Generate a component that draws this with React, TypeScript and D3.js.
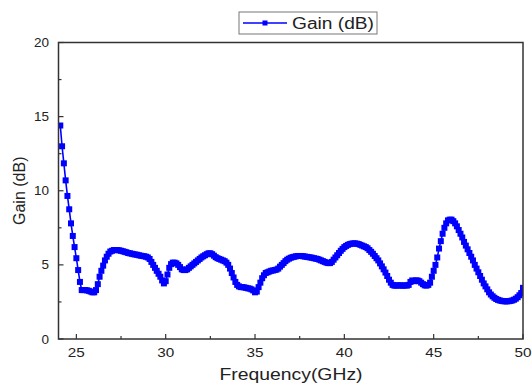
import * as d3 from "d3";
import { useEffect, useRef } from "react";

// sweep starts at 24.1 GHz, 0.1 GHz per point
const freqStart = 24.1;
const freqStep = 0.1;

const gain = [
  14.4, 13.0, 11.85, 10.7, 9.65, 8.75, 7.8, 6.95, 6.2,
  5.45, 4.65, 3.85, 3.3, 3.3, 3.3, 3.28, 3.25, 3.2, 3.15,
  3.15, 3.3, 3.7, 4.2, 4.6, 4.95, 5.3, 5.55, 5.75, 5.9,
  5.95, 6.0, 6.0, 6.0, 5.98, 5.95, 5.92, 5.88, 5.85, 5.8,
  5.78, 5.75, 5.72, 5.7, 5.68, 5.65, 5.62, 5.6, 5.58, 5.55,
  5.5, 5.4, 5.2, 5.0, 4.8, 4.6, 4.4, 4.2, 3.95, 3.75,
  3.9, 4.35, 4.8, 5.05, 5.15, 5.15, 5.1, 5.0, 4.85, 4.7,
  4.65, 4.65, 4.7, 4.8, 4.9, 5.0, 5.1, 5.2, 5.3, 5.4,
  5.5, 5.58, 5.65, 5.72, 5.78, 5.78, 5.72, 5.62, 5.52, 5.45,
  5.4, 5.35, 5.3, 5.25, 5.15, 5.0, 4.75, 4.45, 4.15, 3.85,
  3.65, 3.55, 3.5, 3.5, 3.48, 3.45, 3.42, 3.4, 3.35, 3.28,
  3.15, 3.2, 3.5, 3.8, 4.1, 4.3, 4.45, 4.5, 4.55, 4.6,
  4.62, 4.65, 4.68, 4.75, 4.88, 5.0, 5.12, 5.25, 5.35, 5.42,
  5.48, 5.52, 5.55, 5.58, 5.6, 5.6, 5.6, 5.58, 5.56, 5.54,
  5.52, 5.5, 5.48, 5.45, 5.42, 5.4, 5.35, 5.3, 5.25, 5.2,
  5.15, 5.12, 5.12, 5.2, 5.35, 5.5, 5.65, 5.8, 5.95, 6.08,
  6.2, 6.28, 6.35, 6.4, 6.43, 6.45, 6.45, 6.43, 6.4, 6.35,
  6.3, 6.25, 6.2, 6.12, 6.0, 5.88, 5.75, 5.6, 5.45, 5.3,
  5.1, 4.9, 4.7, 4.48, 4.25, 4.0, 3.8, 3.65, 3.6, 3.6,
  3.62, 3.62, 3.6, 3.6, 3.62, 3.6, 3.65, 3.85, 3.95, 3.9,
  3.95, 3.95, 3.9, 3.8, 3.7, 3.62, 3.6, 3.65, 3.8, 4.2,
  4.6, 5.0, 5.5, 6.1, 6.6, 7.1, 7.5, 7.8, 8.0, 8.05,
  8.05, 7.95, 7.8, 7.6, 7.35, 7.1, 6.85, 6.55, 6.3, 6.05,
  5.8, 5.55, 5.3, 5.0, 4.75, 4.5, 4.25, 4.0, 3.75, 3.55,
  3.35, 3.15, 3.0, 2.88, 2.78, 2.7, 2.64, 2.6, 2.57, 2.55,
  2.54, 2.54, 2.55, 2.57, 2.6, 2.65, 2.72, 2.82, 2.95, 3.1,
  3.45,
];

const xTicks = [25, 30, 35, 40, 45, 50];
const xMinorTicks = [27.5, 32.5, 37.5, 42.5, 47.5];
const yTicks = [0, 5, 10, 15, 20];
const yMinorTicks = [2.5, 7.5, 12.5, 17.5];

const seriesName = "Gain (dB)";
const blue = "#0000ff";
const font = "'Liberation Sans', Arial, Helvetica, sans-serif";

export default function App() {
  const ref = useRef<SVGSVGElement>(null);

  useEffect(() => {
    const svg = d3.select(ref.current);
    svg.selectAll("*").remove();

    const left = 58.5;
    const right = 523;
    const top = 42.5;
    const bottom = 339;

    const x = d3.scaleLinear().domain([24, 50]).range([left, right]);
    const y = d3.scaleLinear().domain([0, 20]).range([bottom, top]);

    const points = gain.map((g, i) => ({
      f: +(freqStart + i * freqStep).toFixed(1),
      g,
    }));

    svg
      .append("defs")
      .append("clipPath")
      .attr("id", "plot-clip")
      .append("rect")
      .attr("x", left)
      .attr("y", top)
      .attr("width", right - left)
      .attr("height", bottom - top);

    // ticks, inward
    const axis = svg.append("g").attr("stroke", "#333").attr("stroke-width", 1.2);
    axis
      .selectAll("line.xmaj")
      .data(xTicks)
      .join("line")
      .attr("x1", (d) => x(d))
      .attr("x2", (d) => x(d))
      .attr("y1", bottom)
      .attr("y2", bottom - 5);
    axis
      .selectAll("line.xmin")
      .data(xMinorTicks)
      .join("line")
      .attr("x1", (d) => x(d))
      .attr("x2", (d) => x(d))
      .attr("y1", bottom)
      .attr("y2", bottom - 3);
    axis
      .selectAll("line.ymaj")
      .data(yTicks)
      .join("line")
      .attr("x1", left)
      .attr("x2", left + 5)
      .attr("y1", (d) => y(d))
      .attr("y2", (d) => y(d));
    axis
      .selectAll("line.ymin")
      .data(yMinorTicks)
      .join("line")
      .attr("x1", left)
      .attr("x2", left + 3)
      .attr("y1", (d) => y(d))
      .attr("y2", (d) => y(d));

    // data
    const plot = svg.append("g").attr("clip-path", "url(#plot-clip)");
    const line = d3
      .line<{ f: number; g: number }>()
      .x((d) => x(d.f))
      .y((d) => y(d.g));
    plot
      .append("path")
      .attr("d", line(points))
      .attr("fill", "none")
      .attr("stroke", blue)
      .attr("stroke-width", 1.6);
    plot
      .selectAll("rect")
      .data(points)
      .join("rect")
      .attr("x", (d) => x(d.f) - 3)
      .attr("y", (d) => y(d.g) - 3)
      .attr("width", 6)
      .attr("height", 6)
      .attr("fill", blue);

    // frame
    svg
      .append("rect")
      .attr("x", left)
      .attr("y", top)
      .attr("width", right - left)
      .attr("height", bottom - top)
      .attr("fill", "none")
      .attr("stroke", "#333")
      .attr("stroke-width", 1.5);

    // tick labels
    const labels = svg
      .append("g")
      .attr("font-family", font)
      .attr("font-size", 13.5)
      .attr("fill", "#222");
    labels
      .selectAll("text.x")
      .data(xTicks)
      .join("text")
      .attr("x", (d) => x(d))
      .attr("y", 357)
      .attr("text-anchor", "middle")
      .attr("textLength", 17)
      .attr("lengthAdjust", "spacingAndGlyphs")
      .text((d) => d);
    labels
      .selectAll("text.y")
      .data(yTicks)
      .join("text")
      .attr("x", 49)
      .attr("y", (d) => y(d) + 4.5)
      .attr("text-anchor", "end")
      .text((d) => d);

    // axis titles
    svg
      .append("text")
      .attr("x", 291)
      .attr("y", 380)
      .attr("text-anchor", "middle")
      .attr("font-family", font)
      .attr("font-size", 17)
      .attr("fill", "#222")
      .attr("textLength", 143)
      .attr("lengthAdjust", "spacingAndGlyphs")
      .text("Frequency(GHz)");
    svg
      .append("text")
      .attr("transform", `translate(25,${(top + bottom) / 2}) rotate(-90)`)
      .attr("text-anchor", "middle")
      .attr("font-family", font)
      .attr("font-size", 16)
      .attr("fill", "#222")
      .text("Gain (dB)");

    // legend
    const lg = svg.append("g");
    lg.append("rect")
      .attr("x", 239)
      .attr("y", 12)
      .attr("width", 138)
      .attr("height", 22)
      .attr("fill", "#fff")
      .attr("stroke", "#777")
      .attr("stroke-width", 1);
    lg.append("line")
      .attr("x1", 243)
      .attr("x2", 287)
      .attr("y1", 23)
      .attr("y2", 23)
      .attr("stroke", blue)
      .attr("stroke-width", 1.5);
    lg.append("rect")
      .attr("x", 262.5)
      .attr("y", 20.5)
      .attr("width", 5)
      .attr("height", 5)
      .attr("fill", blue);
    lg.append("text")
      .attr("x", 292)
      .attr("y", 29)
      .attr("font-family", font)
      .attr("font-size", 16)
      .attr("fill", "#222")
      .attr("textLength", 82)
      .attr("lengthAdjust", "spacingAndGlyphs")
      .text(seriesName);
  }, []);

  return (
    <svg
      ref={ref}
      width={532}
      height={385}
      style={{ position: "absolute", left: 0, top: 0, background: "#fff" }}
    />
  );
}
